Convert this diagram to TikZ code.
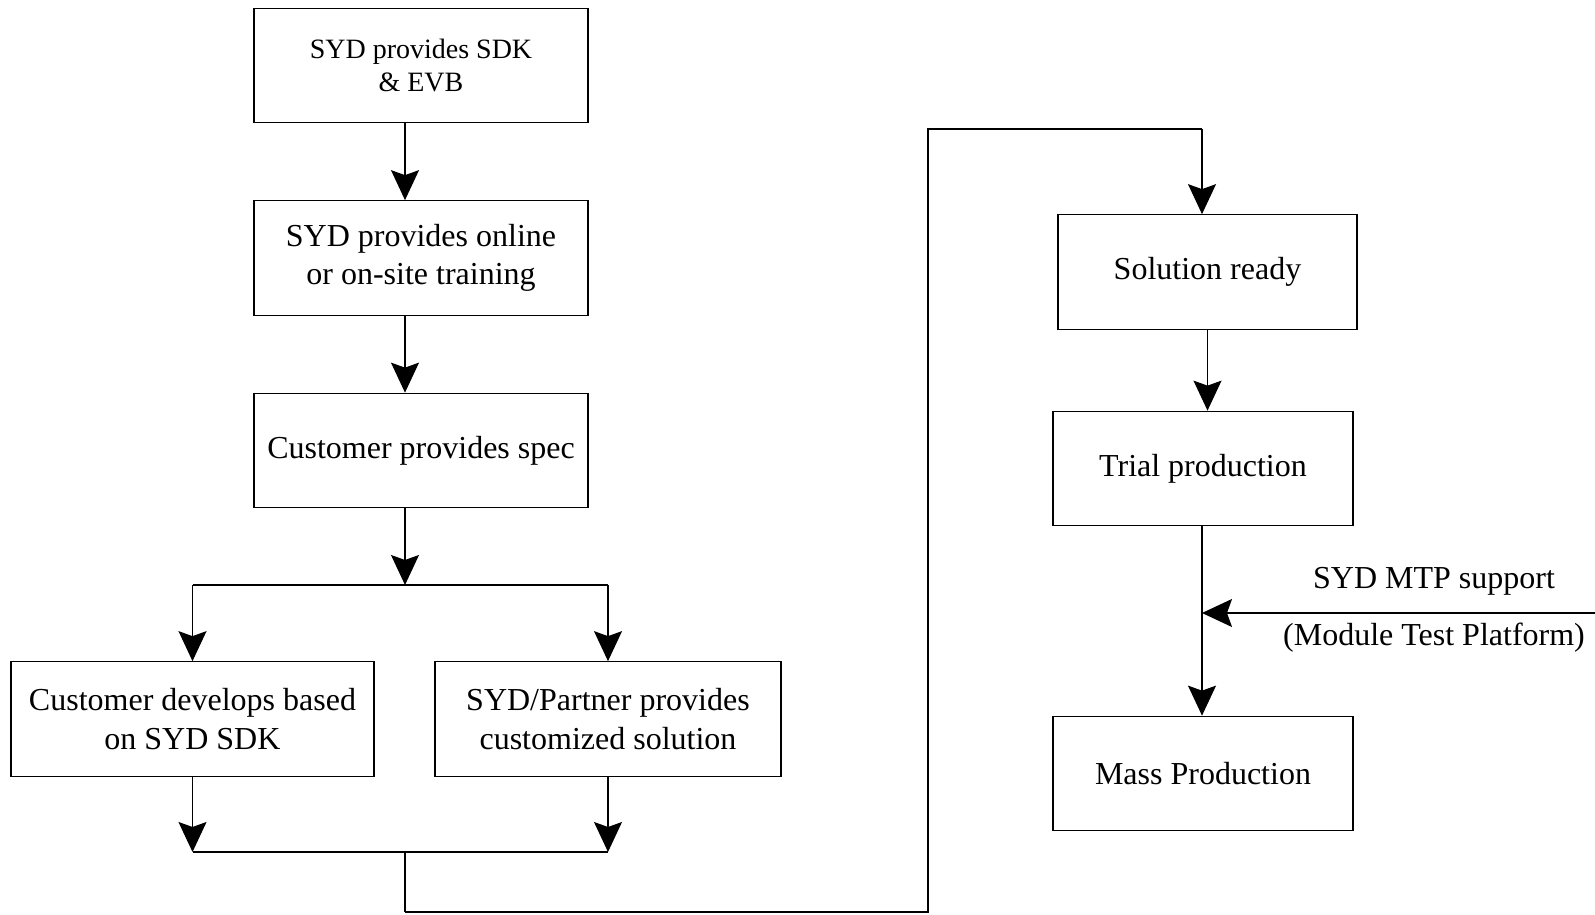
\documentclass[tikz,border=0pt]{standalone}
\usepackage{fontspec}
\setmainfont{Liberation Serif}
\usepackage{tikz}
\usetikzlibrary{arrows.meta,positioning,calc}

\begin{document}
\begin{tikzpicture}[x=1pt,y=1pt,node distance=192.5pt,font=\fontsize{32}{38.6}\selectfont,
	>={Stealth[length=30pt,width=28pt,inset=5pt]}]
	\tikzstyle{box}=[draw,line width=1.2pt,minimum height=114.5pt,inner sep=0pt,align=center]
	\tikzstyle{link}=[line width=1.2pt]
	\tikzstyle{loop}=[line width=2pt]
	\useasboundingbox (0,0) rectangle (1595,914);
	
	\node[box,minimum width=334pt,font=\fontsize{28}{32.5}\selectfont](sdk) at (421,848.5){SYD provides SDK\\\& EVB};
	\node[box,minimum width=334pt](train)[below of=sdk]{SYD provides online\\or on-site training};
	\node[box,minimum width=334pt](spec)[below of=train]{Customer provides spec};
	\node[box,minimum width=363pt](dev) at (192.5,195){Customer develops based\\on SYD SDK};
	\node[box,minimum width=346pt](cust) at (608,195){SYD/Partner provides\\customized solution};
	
	\node[box,minimum width=299pt](ready) at (1207.5,642){Solution ready};
	\node[box,minimum width=300pt](trial) at (1203,445.5){Trial production};
	\node[box,minimum width=300pt](mass) at (1203,140.5){Mass Production};
	
	\node(mtplabel) at (1434,333){SYD MTP support};
	\node(mtpnote) at (1434,276){(Module Test Platform)};
	
	\coordinate(split) at (405,329);
	\coordinate(merge) at (405,62);
	\coordinate(bottom) at (928,2);
	\coordinate(corner) at (928,785);
	\coordinate(trunk) at (1202,0);
	\coordinate(mtp) at (1595,301);
	
	\draw[link,->] (sdk.south -| split) -- (train.north -| split);
	\draw[link,->] (train.south -| split) -- (spec.north -| split);
	\draw[link,->] (spec.south -| split) -- (split);
	\draw[link] (split -| dev) -- (split -| cust);
	\draw[link,->] (split -| dev) -- (dev.north);
	\draw[link,->] (split -| cust) -- (cust.north);
	\draw[link,->] (dev.south) -- (merge -| dev);
	\draw[link,->] (cust.south) -- (merge -| cust);
	\draw[link] (merge -| dev) -- (merge -| cust);
	
	\draw[link] (merge) -- (merge |- bottom);
	\draw[loop] (merge |- bottom) -- (bottom) -- (corner) -- (corner -| trunk);
	\draw[link,->] (corner -| trunk) -- (ready.north -| trunk);
	
	\draw[link,->] (ready.south) -- (ready.south |- trial.north);
	\draw[link,->] (trial.south -| trunk) -- (mass.north -| trunk);
	\draw[link,->] (mtp) -- (mtp -| trunk);
\end{tikzpicture}
\end{document}
